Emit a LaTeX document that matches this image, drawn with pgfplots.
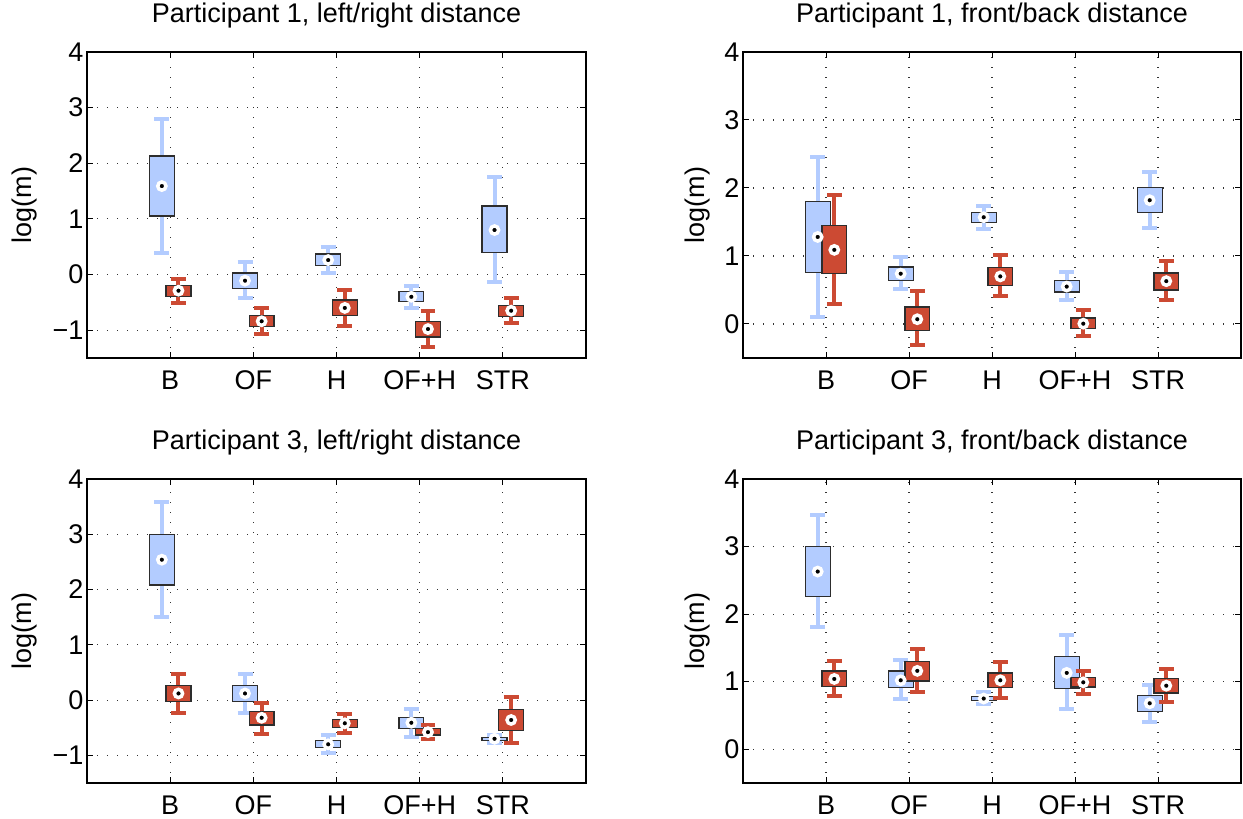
\documentclass[border=0pt]{standalone}
\usepackage{pgfplots}
\pgfplotsset{compat=1.18}
\usepackage{pgfplotstable}
\usepgfplotslibrary{statistics}
\usepackage{fontspec}
\setmainfont{Liberation Sans}
\definecolor{bl}{RGB}{179,204,255}
\definecolor{rd}{RGB}{204,74,51}
\definecolor{edge}{RGB}{45,45,45}

% columns: blue (lw lq med uq uw), red (lw lq med uq uw); rows B, OF, H, OF+H, STR
\pgfplotstableread{
blw blq bmed buq buw rlw rlq rmed ruq ruw
0.39 1.05 1.59 2.13 2.79 -0.51 -0.39 -0.29 -0.20 -0.08
-0.43 -0.25 -0.11 0.03 0.23 -1.06 -0.93 -0.84 -0.74 -0.61
0.02 0.16 0.26 0.37 0.50 -0.92 -0.74 -0.60 -0.46 -0.27
-0.60 -0.49 -0.40 -0.31 -0.20 -1.31 -1.12 -0.98 -0.84 -0.65
-0.14 0.39 0.80 1.23 1.75 -0.88 -0.75 -0.65 -0.56 -0.43
}\POneLR
\pgfplotstableread{
blw blq bmed buq buw rlw rlq rmed ruq ruw
0.11 0.76 1.28 1.80 2.45 0.29 0.74 1.09 1.45 1.90
0.51 0.64 0.74 0.84 0.99 -0.31 -0.10 0.07 0.25 0.48
1.40 1.49 1.57 1.64 1.74 0.41 0.57 0.70 0.83 1.01
0.35 0.47 0.55 0.64 0.76 -0.17 -0.07 0.005 0.09 0.21
1.41 1.64 1.82 2.01 2.24 0.35 0.50 0.63 0.75 0.92
}\POneFB
\pgfplotstableread{
blw blq bmed buq buw rlw rlq rmed ruq ruw
1.50 2.08 2.54 2.99 3.59 -0.24 -0.03 0.12 0.26 0.47
-0.23 -0.03 0.12 0.27 0.47 -0.61 -0.45 -0.32 -0.21 -0.05
-0.95 -0.86 -0.80 -0.73 -0.63 -0.59 -0.49 -0.42 -0.35 -0.25
-0.66 -0.51 -0.41 -0.31 -0.17 -0.70 -0.63 -0.58 -0.52 -0.45
-0.77 -0.73 -0.70 -0.68 -0.64 -0.78 -0.55 -0.36 -0.17 0.06
}\PThreeLR
\pgfplotstableread{
blw blq bmed buq buw rlw rlq rmed ruq ruw
1.81 2.26 2.63 3.00 3.46 0.79 0.93 1.04 1.16 1.31
0.75 0.91 1.02 1.16 1.32 0.84 1.01 1.16 1.30 1.49
0.67 0.72 0.75 0.78 0.85 0.76 0.91 1.02 1.13 1.29
0.59 0.90 1.13 1.37 1.69 0.82 0.92 0.99 1.06 1.16
0.40 0.56 0.68 0.80 0.95 0.70 0.83 0.94 1.05 1.19
}\PThreeFB

\pgfplotsset{
  panel/.style={
    scale only axis, xmin=0, xmax=6,
    xtick={1,2,3,4,5}, xticklabels={B,OF,H,OF+H,STR},
    grid=major,
    major grid style={black!80, line width=1.1pt, dash pattern=on 1.2pt off 8.8pt},
    tick align=inside, major tick length=6pt,
    tick style={black, line width=1pt},
    axis line style={line width=1.3pt},
    title style={font=\fontsize{27}{32}\selectfont, at={(0.5,1)}, anchor=base, yshift=23pt},
    tick label style={font=\fontsize{27}{32}\selectfont},
    label style={font=\fontsize{27}{32}\selectfont},
    xticklabel style={anchor=base, yshift=-31.5pt},
    ylabel={log(m)},
  },
  bluebox/.style={mark=none, boxplot/draw direction=y,
    boxplot/every box/.style={draw=edge, fill=bl, line width=1.3pt},
    boxplot/every whisker/.style={draw=bl, line width=4pt},
    boxplot/every median/.style={draw=none},
    boxplot/box extend=0.3, boxplot/whisker extend=0.18},
  redbox/.style={mark=none, boxplot/draw direction=y,
    boxplot/every box/.style={draw=edge, fill=rd, line width=1.3pt},
    boxplot/every whisker/.style={draw=rd, line width=4pt},
    boxplot/every median/.style={draw=none},
    boxplot/box extend=0.3, boxplot/whisker extend=0.18},
  medmark/.style={only marks, mark=*, mark size=4.1pt,
    mark options={draw=white, fill=black, line width=3.5pt}},
}

% #1 table, #2 row, #3 prefix (b or r), #4 style, #5 draw position
\newcommand\onebox[5]{%
  \pgfplotstablegetelem{#2}{#3lw}\of{#1}\let\vlw\pgfplotsretval
  \pgfplotstablegetelem{#2}{#3lq}\of{#1}\let\vlq\pgfplotsretval
  \pgfplotstablegetelem{#2}{#3med}\of{#1}\let\vmed\pgfplotsretval
  \pgfplotstablegetelem{#2}{#3uq}\of{#1}\let\vuq\pgfplotsretval
  \pgfplotstablegetelem{#2}{#3uw}\of{#1}\let\vuw\pgfplotsretval
  \edef\temp{\noexpand\addplot[#4, boxplot prepared={draw position=#5,
      lower whisker=\vlw, lower quartile=\vlq, median=\vmed,
      upper quartile=\vuq, upper whisker=\vuw}] coordinates {};}%
  \temp
}

\newcommand\panelplots[1]{%
  \onebox{#1}{0}{b}{bluebox}{0.9}
  \onebox{#1}{1}{b}{bluebox}{1.9}
  \onebox{#1}{2}{b}{bluebox}{2.9}
  \onebox{#1}{3}{b}{bluebox}{3.9}
  \onebox{#1}{4}{b}{bluebox}{4.9}
  \addplot[medmark] table[x expr=\coordindex+0.9, y=bmed] {#1};
  \onebox{#1}{0}{r}{redbox}{1.1}
  \onebox{#1}{1}{r}{redbox}{2.1}
  \onebox{#1}{2}{r}{redbox}{3.1}
  \onebox{#1}{3}{r}{redbox}{4.1}
  \onebox{#1}{4}{r}{redbox}{5.1}
  \addplot[medmark] table[x expr=\coordindex+1.1, y=rmed] {#1};
}

\begin{document}
\begin{tikzpicture}
\useasboundingbox (0,0) rectangle (1243pt,819pt);

\begin{axis}[panel, at={(87pt,461pt)}, anchor=south west, width=499pt, height=306pt,
  ymin=-1.5, ymax=4, ytick={-1,0,1,2,3,4}, yticklabels={−1,0,1,2,3,4},
  title={Participant 1, left/right distance},
  ylabel style={at={(axis description cs:0,0.5)}, anchor=base, yshift=55pt}]
\panelplots{\POneLR}
\end{axis}

\begin{axis}[panel, at={(743pt,461pt)}, anchor=south west, width=498pt, height=306pt,
  ymin=-0.5, ymax=4, ytick={0,1,2,3,4}, yticklabels={0,1,2,3,4},
  title={Participant 1, front/back distance},
  ylabel style={at={(axis description cs:0,0.5)}, anchor=base, yshift=39pt}]
\panelplots{\POneFB}
\end{axis}

\begin{axis}[panel, at={(87pt,36pt)}, anchor=south west, width=499pt, height=304pt,
  ymin=-1.5, ymax=4, ytick={-1,0,1,2,3,4}, yticklabels={−1,0,1,2,3,4},
  title={Participant 3, left/right distance},
  ylabel style={at={(axis description cs:0,0.5)}, anchor=base, yshift=55pt}]
\panelplots{\PThreeLR}
\end{axis}

\begin{axis}[panel, at={(743pt,36pt)}, anchor=south west, width=498pt, height=304pt,
  ymin=-0.5, ymax=4, ytick={0,1,2,3,4}, yticklabels={0,1,2,3,4},
  title={Participant 3, front/back distance},
  ylabel style={at={(axis description cs:0,0.5)}, anchor=base, yshift=39pt}]
\panelplots{\PThreeFB}
\end{axis}
\end{tikzpicture}
\end{document}
